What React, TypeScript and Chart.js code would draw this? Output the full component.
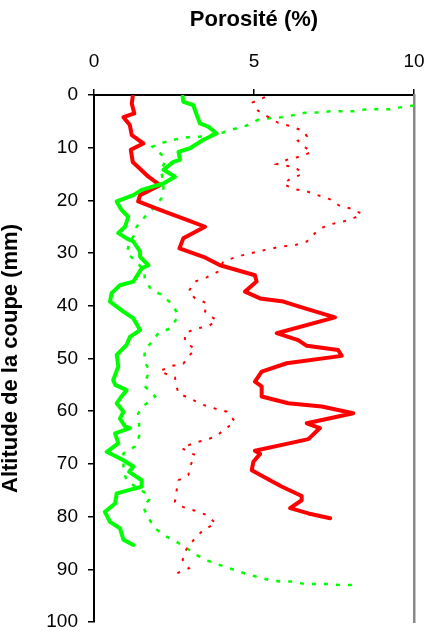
import React, { useEffect, useRef } from 'react';
import { Chart, registerables } from 'chart.js';

Chart.register(...registerables);

// Axis ticks
const porosityTicks = [0, 5, 10];
const altitudeTicks = [0, 10, 20, 30, 40, 50, 60, 70, 80, 90, 100];

// Solid red series
const redSolidAlt = [0.3, 1.6, 3.5, 4.2, 5.7, 7.6, 9.2, 10.4, 12.7, 15.5, 17.1, 19.0, 20.2, 21.8, 23.7, 25.0, 27.2, 29.1, 30.7, 32.3, 34.2, 35.4, 37.3, 38.6, 39.2, 40.2, 42.2, 45.2, 46.5, 47.6, 48.4, 49.5, 50.9, 52.5, 54.4, 55.3, 57.2, 58.5, 59.1, 60.4, 62.3, 63.2, 65.3, 66.2, 67.5, 68.1, 69.6, 71.2, 73.1, 74.3, 76.1, 76.9, 78.4, 79.4, 80.3];
const redSolidPor = [1.21, 1.18, 1.26, 0.92, 1.12, 1.18, 1.54, 1.15, 1.21, 1.70, 2.06, 1.44, 1.38, 2.06, 2.90, 3.47, 2.79, 2.67, 3.42, 3.94, 5.03, 5.08, 4.72, 5.19, 5.92, 6.44, 7.53, 5.71, 6.38, 6.65, 7.63, 7.74, 6.02, 5.24, 5.03, 5.24, 5.24, 6.07, 7.12, 8.10, 6.65, 7.06, 6.70, 6.02, 5.03, 5.19, 4.98, 4.93, 5.50, 5.86, 6.49, 6.49, 6.13, 6.70, 7.38];

// Solid green series
const greenSolidAlt = [0.3, 1.3, 1.9, 3.8, 5.4, 6.0, 7.3, 8.5, 10.1, 10.8, 12.3, 12.7, 14.2, 15.5, 16.8, 18.0, 19.0, 20.2, 21.8, 23.1, 25.0, 26.2, 27.2, 27.8, 29.7, 30.7, 32.3, 32.9, 35.4, 36.1, 37.6, 39.2, 41.1, 42.4, 44.6, 45.9, 47.4, 49.3, 51.5, 54.1, 55.0, 56.0, 57.2, 58.5, 60.1, 61.4, 62.9, 63.2, 64.2, 66.1, 67.7, 69.3, 70.5, 71.5, 73.1, 74.3, 75.6, 77.5, 79.1, 81.0, 82.2, 84.4, 85.4];
const greenSolidPor = [2.77, 2.79, 3.10, 3.21, 3.31, 3.57, 3.83, 3.42, 3.00, 2.64, 2.69, 2.48, 2.17, 2.53, 2.17, 1.49, 1.23, 0.71, 0.86, 1.07, 0.97, 0.76, 1.02, 1.23, 1.44, 1.44, 1.70, 1.49, 1.23, 0.81, 0.55, 0.50, 0.92, 1.23, 1.44, 1.12, 1.02, 0.71, 0.76, 0.60, 0.66, 1.02, 0.86, 0.71, 0.92, 0.81, 0.97, 1.12, 0.66, 0.76, 0.40, 0.92, 1.23, 1.10, 1.49, 1.49, 0.71, 0.66, 0.34, 0.50, 0.81, 0.92, 1.23];

// Dotted red series
const redDotAlt = [0.4, 1.4, 3.0, 4.0, 5.3, 5.9, 6.8, 7.8, 8.7, 9.7, 10.8, 11.7, 12.2, 13.1, 13.4, 13.8, 15.0, 15.9, 16.9, 17.8, 18.3, 19.8, 21.1, 21.6, 22.6, 23.7, 24.7, 25.9, 27.8, 28.5, 28.7, 29.2, 29.7, 30.2, 30.8, 31.6, 33.5, 34.6, 35.4, 37.3, 38.6, 39.5, 41.1, 42.8, 43.9, 44.3, 45.2, 46.7, 48.3, 49.6, 51.0, 51.4, 52.4, 53.6, 55.3, 56.6, 57.6, 58.8, 59.5, 60.1, 62.0, 63.4, 64.8, 65.5, 66.1, 67.0, 68.3, 70.5, 72.1, 73.1, 75.1, 77.2, 78.2, 78.9, 79.7, 81.3, 82.5, 84.1, 86.0, 88.2, 89.8, 90.8];
const redDotPor = [5.34, 4.96, 5.13, 5.40, 5.76, 6.13, 6.54, 6.65, 6.37, 6.54, 6.80, 6.44, 6.07, 5.71, 6.00, 6.31, 6.52, 6.13, 5.92, 6.23, 6.65, 7.38, 7.69, 8.08, 8.37, 8.00, 7.27, 6.96, 6.65, 6.28, 5.90, 5.50, 5.13, 4.77, 4.41, 4.04, 3.88, 3.52, 3.16, 2.95, 3.16, 3.52, 3.47, 3.83, 3.57, 3.21, 2.84, 2.84, 3.16, 2.95, 2.79, 2.43, 2.05, 2.53, 2.58, 2.64, 3.00, 3.42, 3.78, 4.15, 4.41, 4.09, 3.81, 3.45, 3.10, 2.74, 3.16, 3.00, 2.95, 2.64, 2.58, 2.53, 2.79, 3.16, 3.52, 3.81, 3.42, 3.16, 2.90, 2.77, 2.97, 2.58];

// Dotted green series
const greenDotAlt = [2.0, 2.3, 2.7, 2.7, 2.7, 3.1, 3.1, 3.1, 3.3, 3.3, 3.8, 4.2, 4.4, 4.7, 5.8, 6.5, 7.1, 7.6, 7.9, 8.0, 8.4, 9.0, 9.8, 10.4, 11.7, 12.7, 14.2, 16.1, 17.7, 19.6, 21.5, 23.1, 25.0, 26.2, 27.8, 30.0, 31.6, 33.5, 35.1, 37.0, 37.9, 39.8, 41.9, 44.3, 45.2, 46.5, 48.4, 50.5, 52.2, 54.7, 55.3, 57.2, 58.8, 60.4, 62.6, 64.8, 66.7, 68.0, 71.2, 73.2, 75.9, 76.7, 78.1, 80.0, 82.2, 83.5, 84.6, 86.0, 87.3, 88.4, 89.2, 90.0, 90.8, 91.4, 92.0, 92.3, 92.3, 92.8, 92.8, 92.8, 93.0, 93.0];
const greenDotPor = [10.0, 9.61, 9.25, 8.88, 8.52, 8.13, 7.74, 7.38, 7.01, 6.65, 6.26, 5.88, 5.50, 5.13, 4.77, 4.35, 4.04, 3.63, 3.31, 2.95, 2.56, 2.17, 1.83, 1.96, 2.17, 2.22, 2.09, 2.15, 2.17, 2.11, 1.85, 1.59, 1.33, 1.31, 1.12, 1.02, 1.33, 1.57, 1.59, 1.80, 2.11, 2.46, 2.64, 2.38, 2.01, 1.85, 1.59, 1.57, 1.73, 1.59, 1.59, 1.91, 1.59, 1.38, 1.41, 1.41, 1.28, 0.92, 0.92, 1.02, 1.70, 1.73, 1.54, 1.67, 1.91, 2.17, 2.53, 2.90, 3.21, 3.57, 3.94, 4.33, 4.72, 5.08, 5.45, 5.81, 6.21, 6.59, 6.96, 7.32, 7.69, 8.10];

const xTitle = 'Porosité (%)';
const yTitle = 'Altitude de la coupe (mm)';

const pts = (alt: number[], por: number[]) => alt.map((a, i) => ({ x: por[i], y: a }));

const FONT = "'Liberation Sans', Arial, Helvetica, sans-serif";

export default function App() {
  const ref = useRef<HTMLCanvasElement>(null);

  useEffect(() => {
    if (!ref.current) return;
    const chart = new Chart(ref.current, {
      type: 'scatter',
      data: {
        datasets: [
          { data: pts(greenSolidAlt, greenSolidPor), borderColor: '#00FF00', borderWidth: 4, showLine: true, pointRadius: 0, borderJoinStyle: 'round', borderCapStyle: 'round' },
          { data: pts(redSolidAlt, redSolidPor), borderColor: '#FF0000', borderWidth: 4, showLine: true, pointRadius: 0, borderJoinStyle: 'round', borderCapStyle: 'round' },
          { data: pts(redDotAlt, redDotPor), borderColor: '#FF0000', borderWidth: 2, borderDash: [3, 8], showLine: true, pointRadius: 0 },
          { data: pts(greenDotAlt, greenDotPor), borderColor: '#00FF00', borderWidth: 2.5, borderDash: [4, 8], showLine: true, pointRadius: 0 },
        ],
      },
      options: {
        responsive: false,
        animation: false,
        layout: { padding: { left: 0, right: 14, top: 0, bottom: 11 } },
        plugins: { legend: { display: false }, tooltip: { enabled: false } },
        scales: {
          x: {
            type: 'linear',
            position: 'top',
            min: 0,
            max: 10,
            afterBuildTicks: (s: any) => { s.ticks = porosityTicks.map((v) => ({ value: v })); },
            afterFit: (s: any) => { s.height = 95; s.paddingLeft = 0; s.paddingRight = 0; },
            ticks: { color: '#000', font: { family: FONT, size: 19 }, padding: 16, maxRotation: 0 },
            grid: { display: true, drawOnChartArea: false, drawTicks: true, tickLength: 6, color: '#000', lineWidth: 1.5 },
            border: { display: true, color: '#000', width: 2 },
            title: { display: true, text: xTitle, color: '#000', font: { family: FONT, size: 22, weight: 'bold', lineHeight: 1 }, padding: { top: 9, bottom: 0 } },
          },
          y: {
            type: 'linear',
            position: 'left',
            reverse: true,
            min: 0,
            max: 100,
            afterBuildTicks: (s: any) => { s.ticks = altitudeTicks.map((v) => ({ value: v })); },
            afterFit: (s: any) => { s.width = 94; s.paddingTop = 0; s.paddingBottom = 0; },
            ticks: { color: '#000', font: { family: FONT, size: 19 }, padding: 10 },
            grid: { display: true, drawOnChartArea: false, drawTicks: true, tickLength: 6, color: '#000', lineWidth: 1.5 },
            border: { display: true, color: '#000', width: 2 },
            title: { display: true, text: yTitle, color: '#000', font: { family: FONT, size: 22, weight: 'bold', lineHeight: 1 }, padding: { top: 0, bottom: 0 } },
          },
          y2: {
            type: 'linear',
            position: 'right',
            min: 0,
            max: 100,
            afterFit: (s: any) => { s.width = 0; s.paddingTop = 0; s.paddingBottom = 0; },
            ticks: { display: false },
            grid: { display: false, drawTicks: false },
            border: { display: true, color: '#888888', width: 2.5 },
          },
        },
      },
    });
    return () => chart.destroy();
  }, []);

  return (
    <div style={{ position: 'fixed', left: 0, top: 0, width: 428, height: 633, background: '#fff' }}>
      <canvas ref={ref} width={428} height={633} style={{ display: 'block' }} />
    </div>
  );
}
